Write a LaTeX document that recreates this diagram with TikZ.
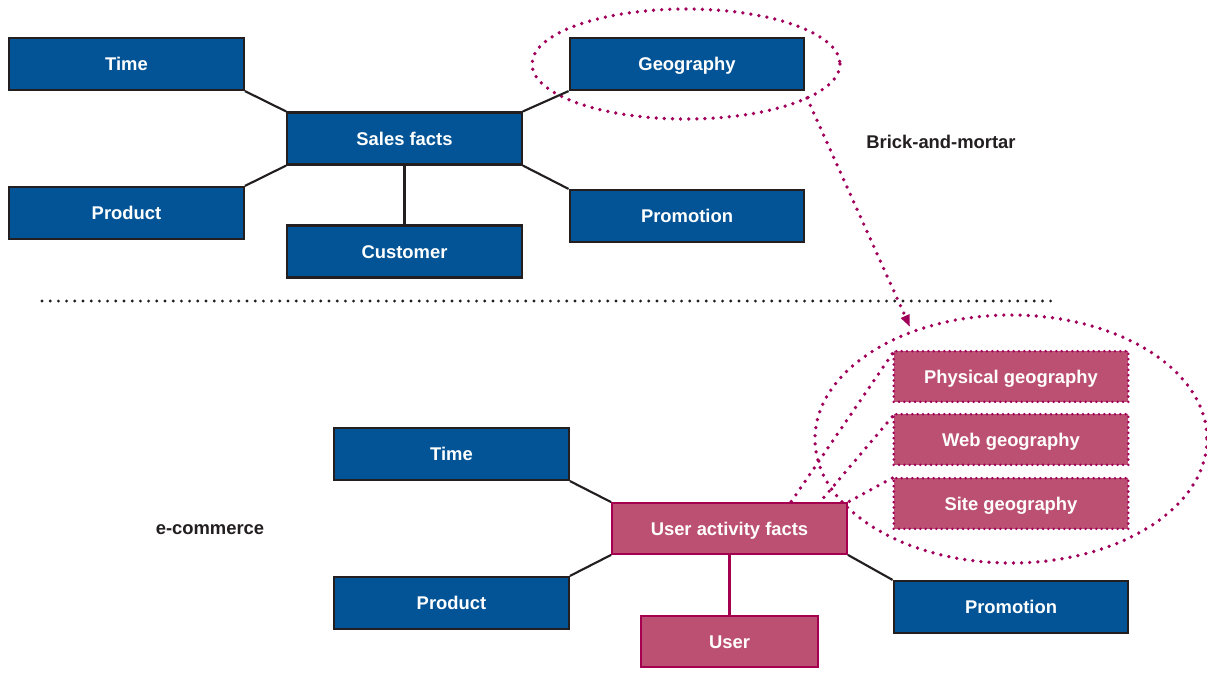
\documentclass[tikz,border=0pt]{standalone}
\usepackage{fontspec}
\setmainfont{Liberation Sans}
\usetikzlibrary{arrows.meta}
\definecolor{boxblue}{RGB}{2,84,150}
\definecolor{boxedge}{RGB}{35,31,32}
\definecolor{pinkfill}{RGB}{188,80,115}
\definecolor{pinkedge}{RGB}{165,0,80}
\definecolor{dotpink}{RGB}{160,0,90}
\tikzset{
  bluebox/.style={draw=boxedge, fill=boxblue, line width=1.6pt, text=white,
    minimum width=176pt, minimum height=39pt, inner sep=0pt,
    text height=9.9pt, text depth=0pt,
    font=\fontsize{13.8}{16}\selectfont\bfseries},
  pinkbox/.style={draw=pinkedge, fill=pinkfill, line width=1.6pt, text=white,
    minimum width=176pt, minimum height=38pt, inner sep=0pt,
    text height=9.9pt, text depth=0pt,
    font=\fontsize{13.8}{16}\selectfont\bfseries},
  geobox/.style={pinkbox, draw=dotpink, line width=2.1pt, line cap=round,
    dash pattern=on 0pt off 4pt},
  conn/.style={draw=boxedge, line width=1.6pt},
  pconn/.style={draw=pinkedge, line width=1.6pt},
  pdots/.style={draw=dotpink, line width=2.8pt, line cap=round,
    dash pattern=on 0pt off 6.1pt},
  bdots/.style={draw=boxedge, line width=2.4pt, line cap=round,
    dash pattern=on 0pt off 6.15pt},
  lbl/.style={text=boxedge, font=\fontsize{13.8}{16}\selectfont\bfseries}
}
\begin{document}
\begin{tikzpicture}[x=0.75pt,y=-0.75pt]
\useasboundingbox (0,0) rectangle (1207,676);
% top ellipse
\draw[pdots] (686,64) ellipse [x radius=154, y radius=55];
% bottom ellipse
\draw[pdots] (1011,439) ellipse [x radius=196, y radius=124];
% top diagram
\node[bluebox] (time1) at (126.5,64) {Time};
\node[bluebox] (geo1) at (687,64) {Geography};
\node[bluebox] (sales) at (404.5,138.5) {Sales facts};
\node[bluebox] (prod1) at (126.5,213) {Product};
\node[bluebox] (cust) at (404.5,251.5) {Customer};
\node[bluebox] (promo1) at (687,216) {Promotion};
\draw[conn] (time1.south east) -- (sales.north west);
\draw[conn] (prod1.north east) -- (sales.south west);
\draw[conn] (geo1.south west) -- (sales.north east);
\draw[conn] (promo1.north west) -- (sales.south east);
\draw[conn] (cust.north) -- (sales.south);
% labels
\node[lbl] (bm) at (941,142) {Brick-and-mortar};
\node[lbl] (ec) at (210,529.5) {e-commerce};
% separator
\coordinate (sepA) at (42,301);
\coordinate (sepB) at (1053,301);
\draw[bdots] (sepA) -- (sepB);
% bottom diagram
\node[bluebox] (time2) at (451.5,454) {Time};
\node[pinkbox] (uaf) at (729.5,528.5) {User activity facts};
\node[bluebox] (prod2) at (451.5,603) {Product};
\node[bluebox] (promo2) at (1011,607) {Promotion};
\node[pinkbox, minimum width=133pt] (user) at (729.5,641.5) {User};
\node[geobox] (phys) at (1011,376.5) {Physical geography};
\node[geobox] (web) at (1011,439.5) {Web geography};
\node[geobox] (site) at (1011,503.5) {Site geography};
\draw[conn] (time2.south east) -- (uaf.north west);
\draw[conn] (prod2.north east) -- (uaf.south west);
\draw[conn] (promo2.north west) -- (uaf.south east);
\draw[pconn] (user.north) -- (uaf.south);
% dotted links from geography boxes to user activity facts
\coordinate (u1) at (791,502);
\coordinate (u2) at (820,502);
\draw[pdots] ([yshift=-3pt]phys.north west) -- (u1);
\draw[pdots] ([yshift=-3pt]web.north west) -- (u2);
\draw[pdots] ([yshift=-1pt]site.north west) -- (uaf.north east);
% arrow from top ellipse to bottom ellipse
\coordinate (arrS) at (807,98);
\coordinate (arrE) at (910,327);
\draw[pdots, -{Triangle[length=9pt,width=6.5pt]}] (arrS) -- (arrE);
\end{tikzpicture}
\end{document}
